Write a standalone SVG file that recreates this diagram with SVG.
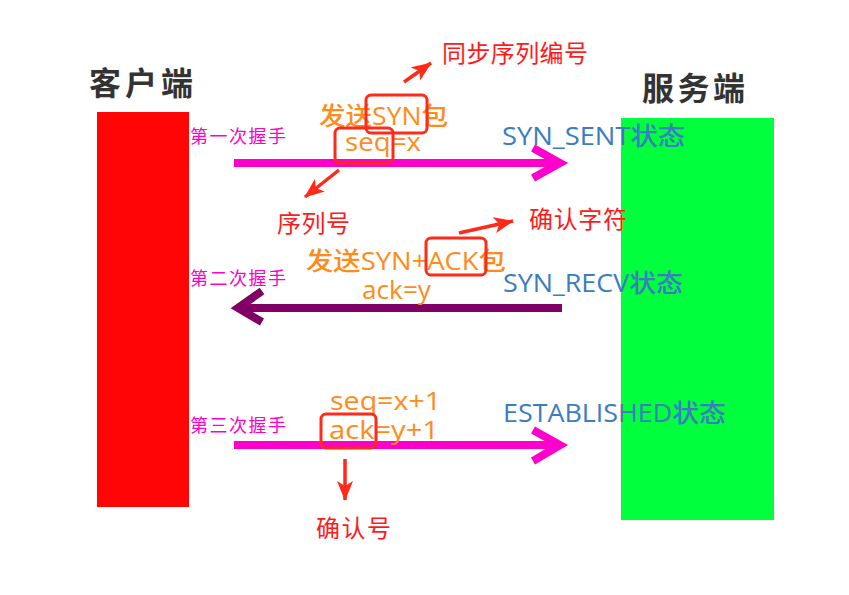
<svg xmlns="http://www.w3.org/2000/svg" width="849" height="595" viewBox="0 0 849 595">
<defs>
<style>
text{font-family:"Open Sans","Noto Sans CJK SC",sans-serif}
.title{font-size:32px;font-weight:bold;fill:#333}
.step{font-size:18px;fill:#ff00cc}
.pkt{font-size:25px;fill:#ff8c1a;font-weight:500}
.state{font-size:25px;fill:#3a7dc0;font-weight:500}
.note{font-size:24px;fill:#ff1a1a}
.box{fill:none;stroke:#ff2a1a;stroke-width:3}
.big{fill:none;stroke-width:8;stroke-linecap:butt}
.ann{stroke:#ff2a1a;stroke-width:3.5;fill:none}
</style>
<marker id="ah" viewBox="0 0 20 16" refX="19" refY="8" markerWidth="20" markerHeight="16" markerUnits="userSpaceOnUse" orient="auto">
<path d="M0,0 L20,8 L0,16 L5,8 Z" fill="#ff2a1a"/>
</marker>
</defs>
<rect width="849" height="595" fill="#fff"/>
<g id="client">
<rect x="97" y="112" width="92" height="395" fill="#ff0505"/>
<text class="title" x="89" y="95" textLength="104">客户端</text>
</g>
<g id="server">
<rect x="621" y="118" width="153" height="402" fill="#00ff3c"/>
<text class="title" x="642" y="100" textLength="103">服务端</text>
</g>
<g id="connectors">
<line class="big" x1="234" y1="163" x2="560" y2="163" stroke="#ff00cc"/>
<polyline class="big" points="533,148 560,163 533,178" stroke="#ff00cc"/>
<line class="big" x1="562" y1="308" x2="239" y2="308" stroke="#800066"/>
<polyline class="big" points="262,291 238,308 262,322" stroke="#800066"/>
<line class="big" x1="234" y1="445" x2="560" y2="445" stroke="#ff00cc"/>
<polyline class="big" points="533,430 560,445 533,461" stroke="#ff00cc"/>
<line class="ann" x1="404" y1="82" x2="431" y2="63" marker-end="url(#ah)"/>
<line class="ann" x1="339" y1="170" x2="305" y2="197" marker-end="url(#ah)"/>
<line class="ann" x1="459" y1="233" x2="513" y2="221" marker-end="url(#ah)"/>
<line class="ann" x1="345" y1="459" x2="345" y2="500" marker-end="url(#ah)"/>
</g>
<g id="step1">
<text class="step" x="190" y="143" textLength="96">第一次握手</text>
<text class="pkt" x="319" y="125" textLength="129" lengthAdjust="spacingAndGlyphs">发送SYN包</text>
<text class="pkt" x="345" y="151" textLength="76" lengthAdjust="spacingAndGlyphs">seq=x</text>
<rect class="box" x="366" y="95" width="61" height="38" rx="5"/>
<rect class="box" x="335" y="128" width="58" height="35" rx="5"/>
<text class="state" x="502" y="145" textLength="183" lengthAdjust="spacingAndGlyphs">SYN_SENT状态</text>
<text class="note" x="442" y="62" textLength="146">同步序列编号</text>
<text class="note" x="277" y="232" textLength="73">序列号</text>
</g>
<g id="step2">
<text class="step" x="190" y="285" textLength="96">第二次握手</text>
<text class="pkt" x="306" y="270" textLength="200" lengthAdjust="spacingAndGlyphs">发送SYN+ACK包</text>
<text class="pkt" x="362" y="299" textLength="69" lengthAdjust="spacingAndGlyphs">ack=y</text>
<rect class="box" x="426" y="238" width="60" height="37" rx="5"/>
<text class="state" x="503" y="292" textLength="180" lengthAdjust="spacingAndGlyphs">SYN_RECV状态</text>
<text class="note" x="529" y="228" textLength="98">确认字符</text>
</g>
<g id="step3">
<text class="step" x="190" y="432" textLength="96">第三次握手</text>
<text class="pkt" x="330" y="410" textLength="111" lengthAdjust="spacingAndGlyphs">seq=x+1</text>
<text class="pkt" x="329" y="439" textLength="110" lengthAdjust="spacingAndGlyphs">ack=y+1</text>
<rect class="box" x="321" y="414" width="55" height="34" rx="5"/>
<text class="state" x="503" y="422" textLength="223" lengthAdjust="spacingAndGlyphs">ESTABLISHED状态</text>
<text class="note" x="316" y="537" font-size="25" textLength="75">确认号</text>
</g>
</svg>
